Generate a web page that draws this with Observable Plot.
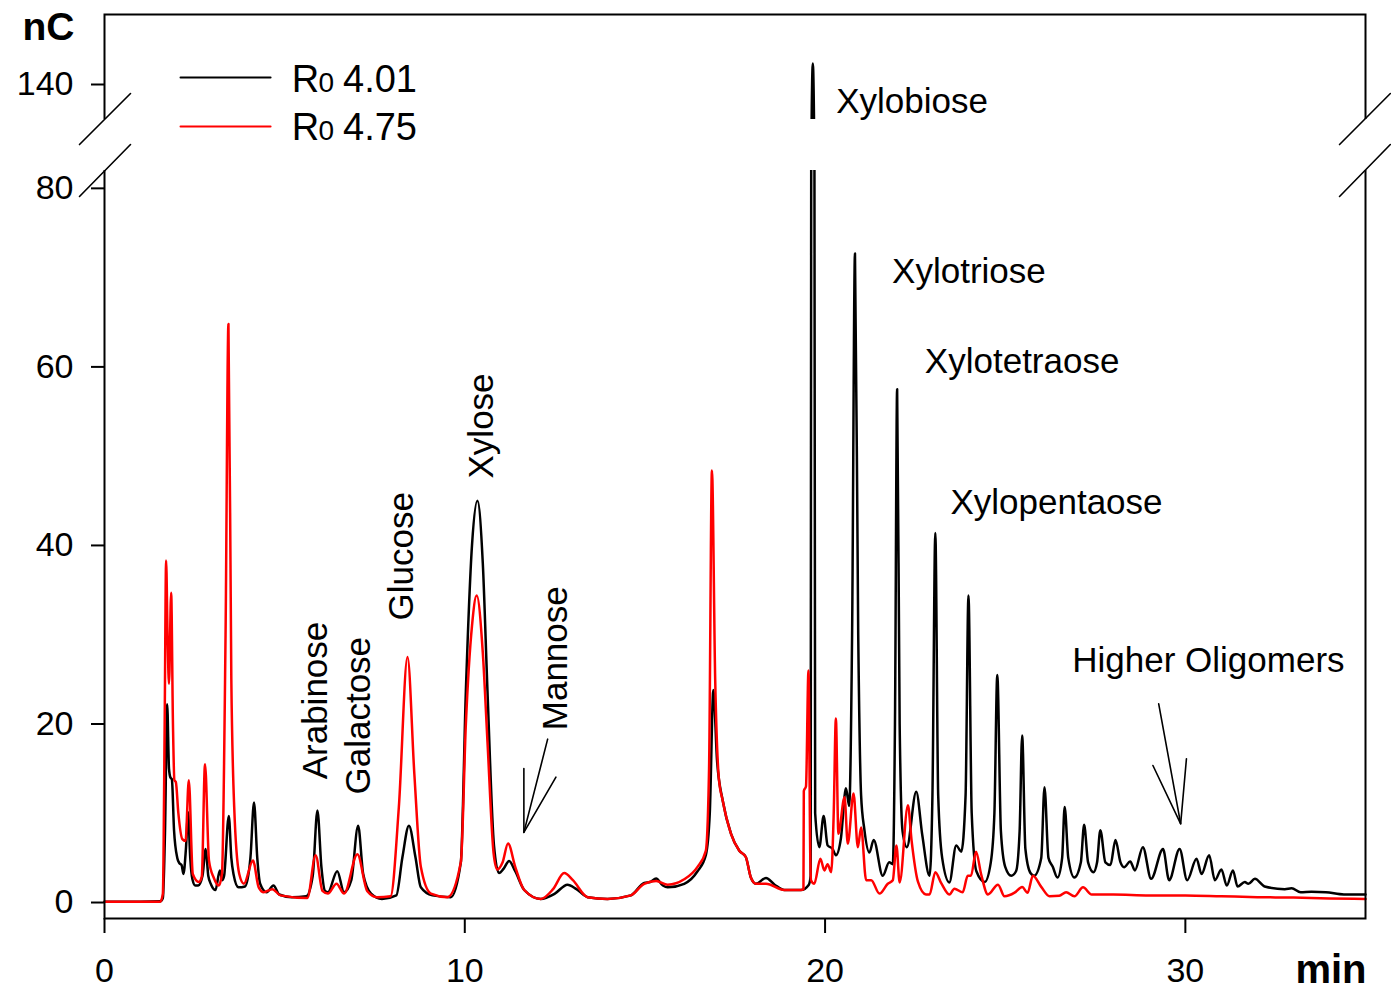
<!DOCTYPE html>
<html>
<head>
<meta charset="utf-8">
<script src="https://cdn.jsdelivr.net/npm/d3@7"></script>
<script src="https://cdn.jsdelivr.net/npm/@observablehq/plot@0.6"></script>
<style>
  html, body { margin: 0; padding: 0; background: #fff; }
  svg { overflow: visible; }
</style>
</head>
<body>
<div id="chart"></div>
<script>
// ---- Data ----
// Series R0 4.01 (black): retention time (min) and signal (nC)
const timeR401 = [0,1.0,1.55,1.62,1.68,1.74,1.79,1.83,1.87,1.93,2.02,2.08,2.14,2.19,2.26,2.32,2.38,2.44,2.52,2.6,2.72,2.81,2.88,2.96,3.08,3.2,3.27,3.32,3.45,3.52,3.58,3.72,3.9,4.05,4.15,4.24,4.32,4.5,4.69,4.85,5.2,5.6,5.78,5.91,6.02,6.12,6.2,6.46,6.65,6.85,7.04,7.18,7.4,7.7,8.1,8.27,8.45,8.63,8.78,9.1,9.61,9.89,10.03,10.2,10.35,10.5,10.63,10.81,10.95,11.08,11.23,11.4,11.65,12.11,12.5,12.85,13.1,13.41,13.96,14.61,14.98,15.15,15.31,15.5,15.63,16.09,16.46,16.69,16.8,16.9,17.0,17.16,17.39,17.62,17.8,17.94,18.08,18.36,18.6,18.87,19.33,19.55,19.6,19.615,19.66,19.705,19.725,19.84,19.96,20.07,20.21,20.3,20.44,20.58,20.67,20.75,20.83,20.92,21.0,21.09,21.23,21.35,21.6,21.78,21.88,21.94,22.0,22.07,22.15,22.27,22.53,22.7,22.9,22.98,23.06,23.14,23.25,23.45,23.64,23.78,23.9,23.98,24.07,24.2,24.43,24.6,24.7,24.78,24.88,25.0,25.17,25.3,25.4,25.47,25.56,25.7,25.8,26.0,26.09,26.2,26.32,26.45,26.58,26.65,26.75,26.92,27.1,27.19,27.3,27.45,27.55,27.64,27.78,27.92,28.06,28.2,28.3,28.47,28.6,28.82,29.05,29.38,29.55,29.84,30.05,30.31,30.45,30.66,30.82,31.0,31.15,31.32,31.45,31.65,31.75,31.93,32.2,32.76,32.95,33.2,33.5,33.9,34.4,35.0];
const signalR401 = [0.1,0.1,0.15,0.5,8,22.2,15,14.0,13.8,8.1,5.0,4.4,4.2,3.2,6,10.1,5,2.6,1.9,1.9,3,6.0,3.0,2.0,1.4,3.6,2.5,3,9.7,5,3.2,1.7,1.8,5,11.2,5,2.1,1.15,1.9,0.9,0.6,0.7,3,10.3,4,1.3,1.15,3.5,1.15,2.5,8.6,3.2,1.0,0.4,0.8,5.1,8.6,5.1,1.7,0.8,0.6,4.5,23.7,40,45.0,38,23.7,6.4,3.3,3.8,4.65,3.5,1.4,0.4,1.0,2.0,1.5,0.6,0.4,0.8,2.2,2.3,2.7,1.9,1.7,2.1,3.5,5.3,10,23.8,16,11.4,7.7,5.8,5.1,2.8,2.1,2.75,2.0,1.4,1.4,2.0,3,82,142.4,82,10,6.2,9.7,6.4,6.0,5.3,7.2,12.8,10.8,30,72.7,30,12,8.2,5.6,7.0,3.0,4.5,4.3,20,57.5,20,8,6.2,12.4,7.5,3.0,12,41.4,12,5,2.25,6.4,5.7,12,34.4,10,3.5,2.3,4.5,10,25.5,8,4,3.0,3.5,8,18.7,6,3.3,3.0,5,12.9,5,4.0,2.8,5,10.7,5,2.8,4.5,8.7,4.5,3.4,4.5,8.1,4.5,4.2,7.0,4.5,3.95,4.6,3.6,6.2,2.65,6.0,2.5,6.0,2.5,4.9,3.2,5.3,2.5,3.7,1.9,3.6,1.8,2.3,2.1,2.65,1.8,1.5,1.6,1.15,1.2,1.15,0.9,0.9];

// Series R0 4.75 (red)
const timeR475 = [0,1.0,1.55,1.62,1.67,1.71,1.75,1.79,1.85,1.9,1.94,1.98,2.05,2.16,2.25,2.34,2.45,2.62,2.7,2.79,2.9,3.03,3.17,3.26,3.36,3.44,3.52,3.6,3.74,3.87,4.12,4.28,4.42,4.66,4.88,5.63,5.86,6.05,6.2,6.44,6.65,7.02,7.29,7.57,7.94,8.17,8.41,8.6,8.78,9.06,9.52,9.89,10.03,10.2,10.33,10.5,10.63,10.8,10.9,11.05,11.2,11.4,11.65,12.11,12.45,12.76,13.0,13.41,13.96,14.61,14.98,15.31,15.63,16.09,16.46,16.69,16.78,16.86,16.95,17.05,17.16,17.39,17.62,17.8,17.94,18.08,18.36,18.87,19.33,19.4,19.41,19.47,19.54,19.59,19.61,19.7,19.87,19.98,20.07,20.17,20.24,20.3,20.37,20.54,20.63,20.79,20.91,21.0,21.14,21.28,21.51,21.74,21.88,21.98,22.07,22.3,22.4,22.58,22.8,22.9,23.06,23.22,23.45,23.59,23.82,23.96,24.05,24.19,24.33,24.52,24.8,24.98,25.26,25.47,25.62,25.77,26.0,26.23,26.5,26.69,26.92,27.16,27.4,28.0,29.0,30.0,31.0,32.0,33.0,34.0,35.0];
const signalR475 = [0.1,0.1,0.1,1,20,38.3,30,24.5,34.7,20,13.7,13.5,10,7.1,6.9,13.7,3.2,2.3,2.9,15.5,4.7,2.8,1.9,3.2,30,64.8,25,10.7,3.2,2.1,4.7,1.7,1.15,1.5,0.8,0.5,5.3,1.3,1.0,2.1,1.0,5.4,1.3,0.6,0.7,10.7,27.5,14.4,4.0,1.0,0.6,4.5,20,31,34.4,28,18,5.5,3.7,4.5,6.6,4,1.4,0.4,1.5,3.3,2.5,0.6,0.4,0.8,2.1,2.4,2.0,2.6,4.0,5.8,15,48.4,25,14,11.4,7.7,5.8,5.1,2.8,2.1,2.1,1.4,1.4,1.5,12.5,13,26.0,5,2.5,2.1,4.9,3.6,4.3,3.4,10,20.6,7.7,11.8,6.6,12.2,6.2,8.4,2.5,2.5,1.0,2.1,2.5,6.4,2.25,10.9,7,2.3,0.9,0.9,3.4,2.2,0.9,1.55,1.15,3.0,3.0,5.7,3.2,0.9,2.0,0.7,1.1,1.75,1.1,3.0,1.75,0.7,0.75,1.15,0.7,1.7,0.9,0.9,0.8,0.8,0.7,0.6,0.55,0.45,0.4];

// Axis ticks and the y-axis break
const xTicks = [0, 10, 20, 30];
const yTicks = [0, 20, 40, 60, 80, 140];
const breakLow = 82, breakHigh = 136;

// Peak annotations
const hLabelNames = ["Xylobiose", "Xylotriose", "Xylotetraose", "Xylopentaose", "Higher Oligomers"];
const hLabelT = [20.31, 21.86, 22.77, 23.48, 26.86];
const hLabelV = [136.7, 69.4, 59.3, 43.5, 25.8];
const vLabelNames = ["Arabinose", "Galactose", "Glucose", "Xylose", "Mannose"];
const vLabelT = [6.18, 7.36, 8.56, 10.78, 12.85];
const vLabelV = [13.8, 12.1, 31.6, 47.5, 19.3];

// Arrows (polylines: [t, v] pairs)
const arrowPaths = [
  [[12.30, 18.3], [11.64, 7.86]],
  [[11.64, 15.0], [11.64, 7.86], [12.53, 14.05]],
  [[29.26, 22.26], [29.87, 8.82]],
  [[29.10, 15.35], [29.87, 8.82], [30.03, 16.1]]
];
// Break slashes
const slashPaths = [
  [[-0.694, 79.09], [0.722, 109.5]],
  [[-0.694, 109.5], [0.722, 138.97]],
  [[34.28, 79.09], [35.69, 109.5]],
  [[34.28, 109.5], [35.69, 138.97]]
];

// Legend
const legendNames = ["4.01", "4.75"];
const legendColors = ["#000000", "#ff0000"];
const legendV = [140.8, 128.6];      // line level
const legendTextV = [139.1, 113.8];  // text baseline level

// ---- Build tables ----
const black = timeR401.map((t, i) => ({t, v: signalR401[i]}));
const red = timeR475.map((t, i) => ({t, v: signalR475[i]}));
const hLabels = hLabelNames.map((name, i) => ({name, t: hLabelT[i], v: hLabelV[i]}));
const vLabels = vLabelNames.map((name, i) => ({name, t: vLabelT[i], v: vLabelV[i]}));
const toSeg = (paths) => paths.flatMap((p, k) => p.map(([t, v]) => ({k, t, v})));
const arrows = toSeg(arrowPaths);
const slashes = toSeg(slashPaths);
const legend = legendNames.map((name, i) => ({name, color: legendColors[i], v: legendV[i], tv: legendTextV[i]}));
const legendLines = legend.flatMap((d, i) => [{i, t: 2.11, v: d.v, color: d.color}, {i, t: 4.61, v: d.v, color: d.color}]);
const gap = [{x1: -0.35, x2: 35.35, y1: breakLow, y2: breakHigh}];

const font = "Liberation Sans, Arial, Helvetica, sans-serif";

const chart = Plot.plot({
  width: 1391,
  height: 990,
  marginLeft: 104,
  marginRight: 26,
  marginTop: 14,
  marginBottom: 72,
  style: {fontFamily: font, background: "#fff", color: "#000", overflow: "visible"},
  x: {domain: [0, 35], axis: null},
  y: {type: "linear", domain: [-1.79, breakLow, breakHigh, 148], range: [918, 170, 119, 14], axis: null},
  marks: [
    Plot.line(black, {x: "t", y: "v", stroke: "#000", strokeWidth: 2.5, curve: "monotone-x"}),
    Plot.line(red, {x: "t", y: "v", stroke: "#ff0000", strokeWidth: 2.5, curve: "monotone-x"}),
    Plot.frame({stroke: "#000", strokeWidth: 2}),
    Plot.rect(gap, {x1: "x1", x2: "x2", y1: "y1", y2: "y2", fill: "#fff"}),
    Plot.line(slashes, {x: "t", y: "v", z: "k", stroke: "#000", strokeWidth: 1.6}),
    Plot.axisY({ticks: yTicks, tickSize: 13, tickPadding: 18, fontSize: 34, tickFormat: d => String(d), strokeWidth: 2, label: null}),
    Plot.axisX({ticks: xTicks, tickSize: 15, tickPadding: 24, fontSize: 34, tickFormat: d => String(d), strokeWidth: 2, label: null}),
    Plot.text(["nC"], {frameAnchor: "top-left", dx: -82, dy: 25, text: d => d, textAnchor: "start", lineAnchor: "bottom", fontSize: 39, fontWeight: "bold"}),
    Plot.text(["min"], {frameAnchor: "bottom-right", dx: 1, dy: 64, text: d => d, textAnchor: "end", lineAnchor: "bottom", fontSize: 40, fontWeight: "bold"}),
    Plot.line(arrows, {x: "t", y: "v", z: "k", stroke: "#000", strokeWidth: 1.6}),
    Plot.text(hLabels, {x: "t", y: "v", text: "name", textAnchor: "start", lineAnchor: "bottom", fontSize: 35}),
    Plot.text(vLabels, {x: "t", y: "v", text: "name", rotate: -90, textAnchor: "start", lineAnchor: "bottom", fontSize: 35}),
    Plot.line(legendLines, {x: "t", y: "v", z: "i", stroke: "color", strokeWidth: 2}),
    Plot.text(legend, {x: () => 5.2, y: "tv", text: () => "R", textAnchor: "start", lineAnchor: "bottom", fontSize: 38}),
    Plot.text(legend, {x: () => 5.94, y: "tv", text: () => "0", textAnchor: "start", lineAnchor: "bottom", fontSize: 28}),
    Plot.text(legend, {x: () => 6.62, y: "tv", text: "name", textAnchor: "start", lineAnchor: "bottom", fontSize: 38})
  ]
});
document.getElementById("chart").append(chart);
</script>
</body>
</html>
